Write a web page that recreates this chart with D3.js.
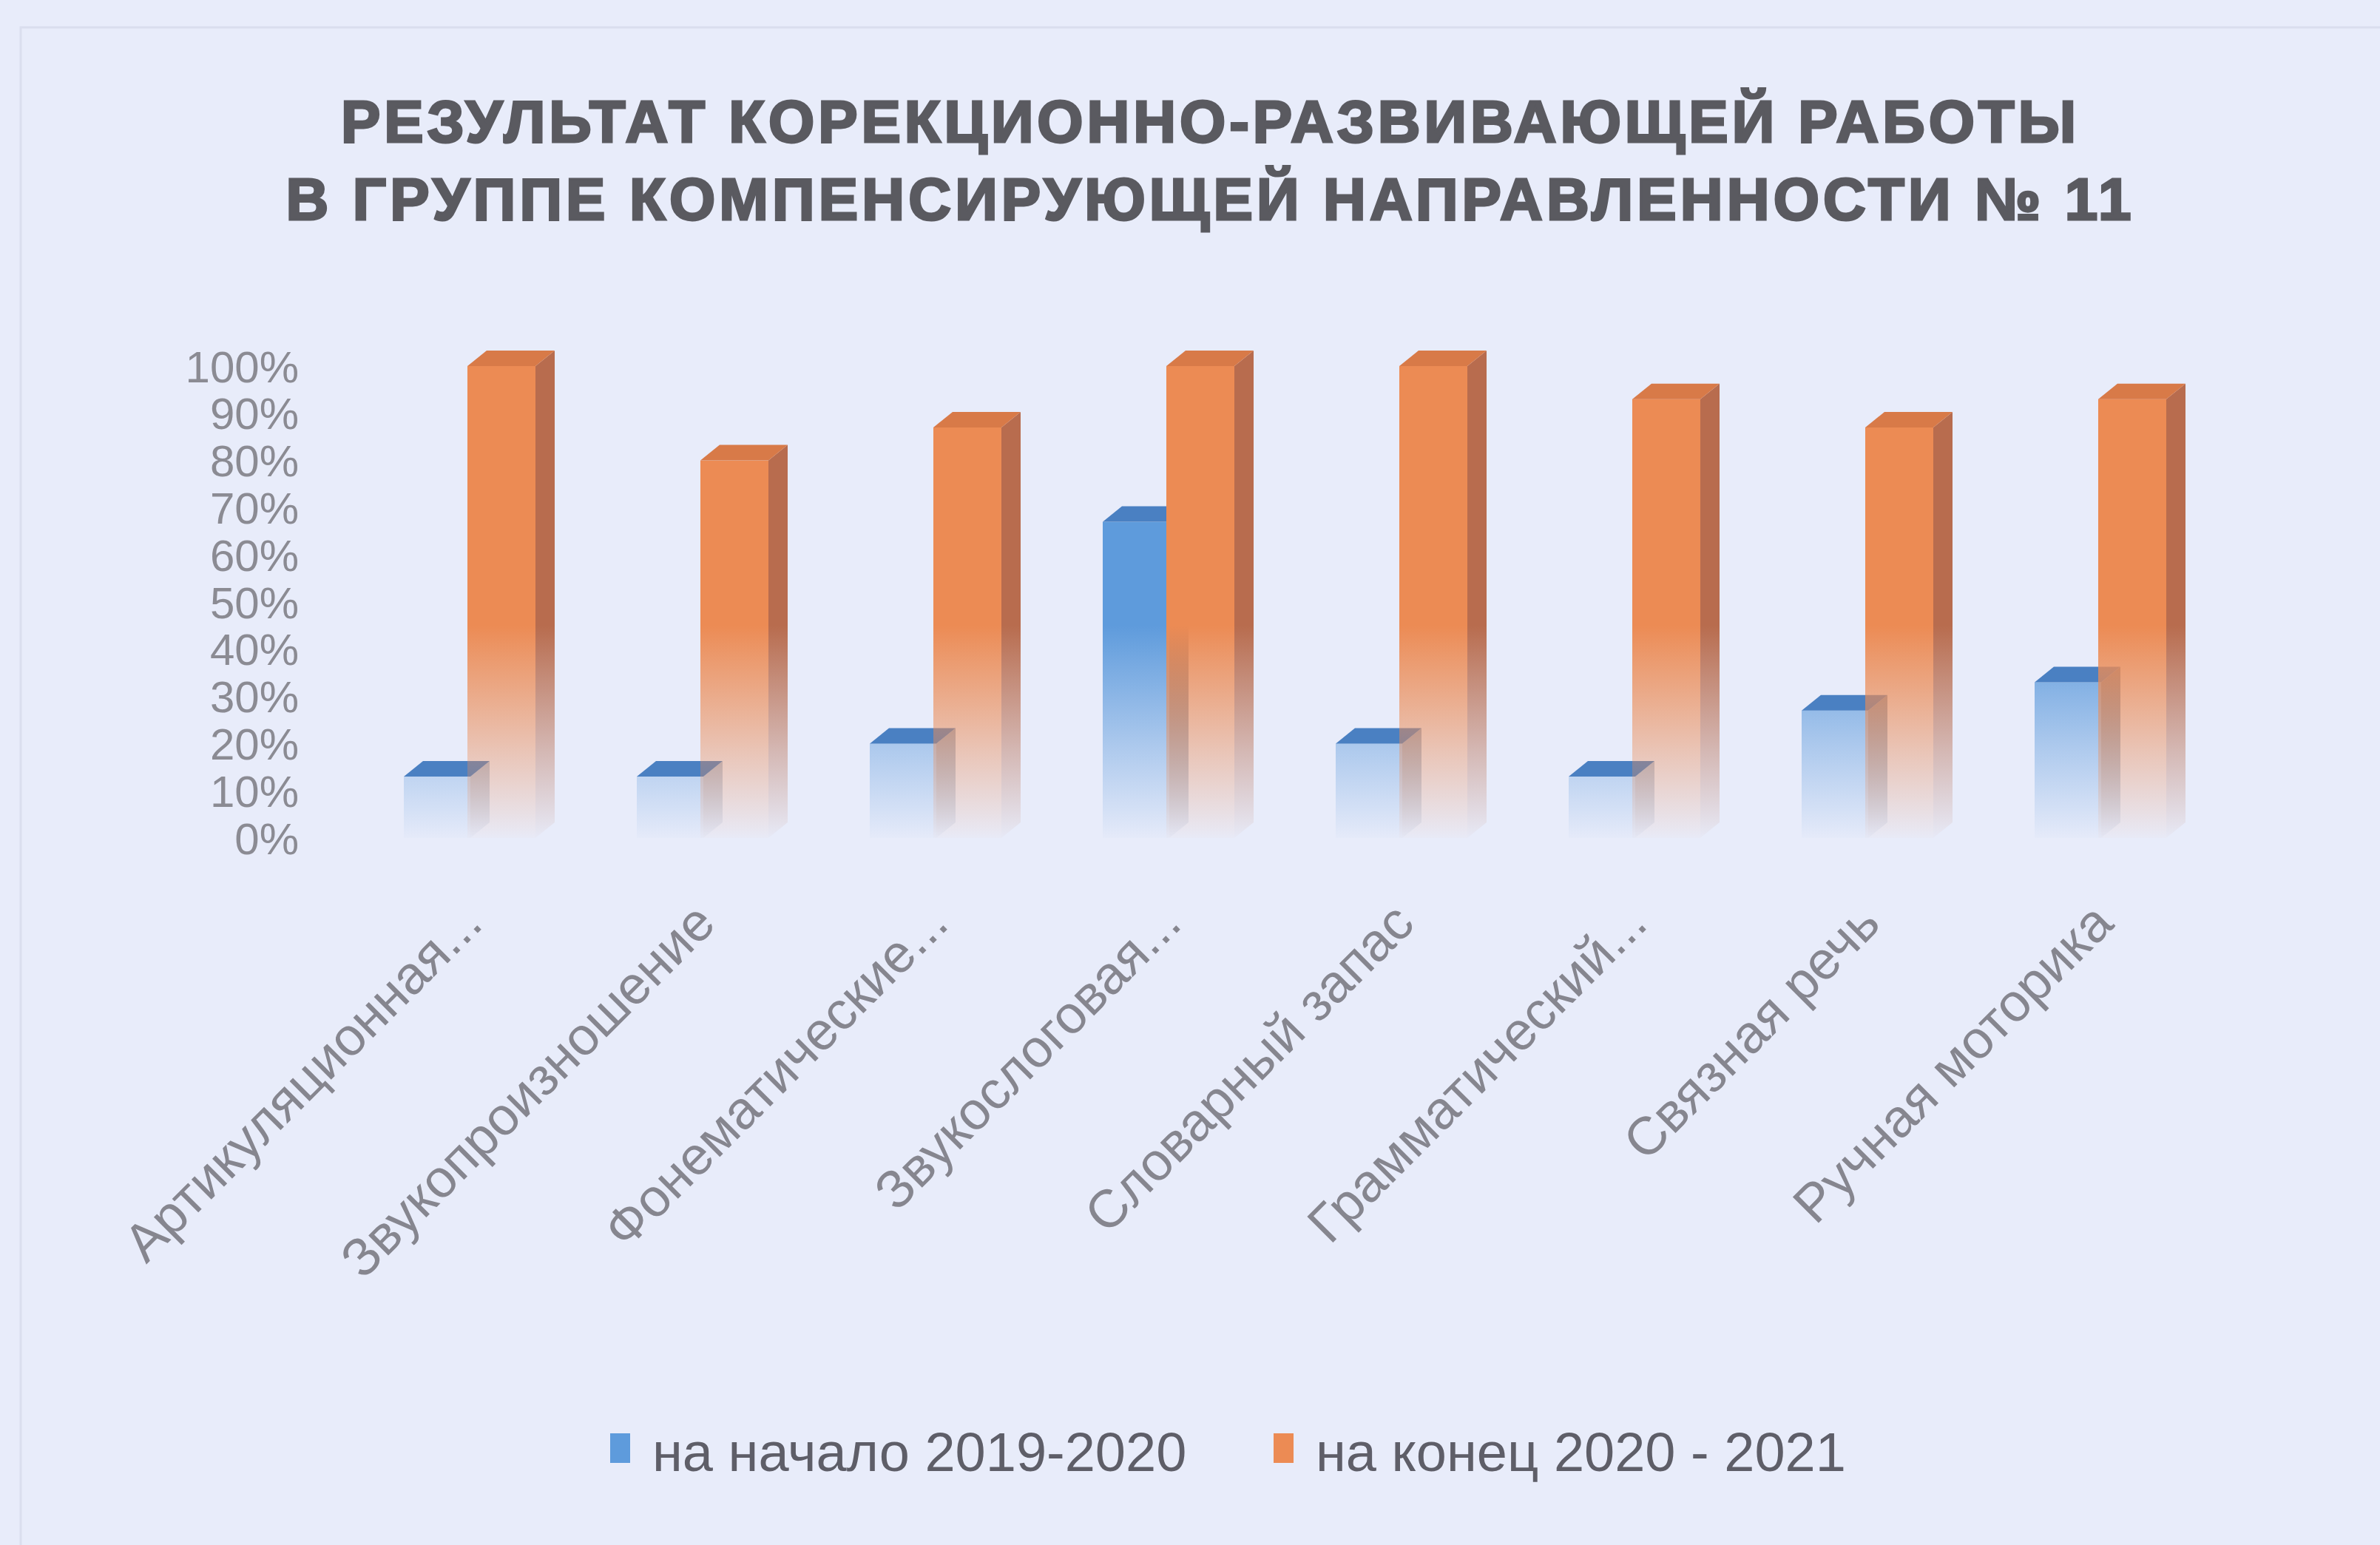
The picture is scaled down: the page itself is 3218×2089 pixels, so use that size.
<!DOCTYPE html>
<html>
<head>
<meta charset="utf-8">
<script src="https://cdn.jsdelivr.net/npm/d3@7"></script>
<style>
  body { margin: 0; background: #e8ecfa; }
  svg { display: block; }
</style>
</head>
<body>
<script>
var w = 3218;
var h = 2089;

var titleLines = ["РЕЗУЛЬТАТ КОРЕКЦИОННО-РАЗВИВАЮЩЕЙ РАБОТЫ",
                  "В ГРУППЕ КОМПЕНСИРУЮЩЕЙ НАПРАВЛЕННОСТИ № 11"];
var categories = ["Артикуляционная...", "Звукопроизношение", "Фонематические...",
                  "Звукослоговая...", "Словарный запас", "Грамматический...",
                  "Связная речь", "Ручная моторика"];
var seriesNames = ["на начало 2019-2020", "на конец 2020 - 2021"];
var startValues = [0.13, 0.13, 0.20, 0.67, 0.20, 0.13, 0.27, 0.33];
var endValues = [1.00, 0.80, 0.87, 1.00, 1.00, 0.93, 0.87, 0.93];
var yTicks = [0, 0.1, 0.2, 0.3, 0.4, 0.5, 0.6, 0.7, 0.8, 0.9, 1];

var svg = d3.select("body")
        .append("svg")
        .attr("width", w)
        .attr("height", h);

svg.append("rect")
    .attr("width", w)
    .attr("height", h)
    .attr("fill", "#e8ecfa");

// faint frame of the chart area
svg.append("rect")
    .attr("x", 28)
    .attr("y", 37)
    .attr("width", w - 20)
    .attr("height", h)
    .attr("fill", "none")
    .attr("stroke", "#dadeee")
    .attr("stroke-width", 3);

var xScale = d3.scaleBand()
    .domain(d3.range(categories.length))
    .range([490, 3010])
    .padding(0);

var yScale = d3.scaleLinear()
    .domain([0, 1])
    .range([1133, 495]);

var depthX = 26, depthY = 21;

// colours: front, side, top
var palette = [
    {front: "#5e9bdc", side: "#4b6d98", top: "#4a80c2", off: 56, width: 90},
    {front: "#ec8b54", side: "#b86c4e", top: "#d87a48", off: 142, width: 92}
];

var defs = svg.append("defs");
palette.forEach(function(p, i) {
    ["front", "side"].forEach(function(face) {
        var g = defs.append("linearGradient")
            .attr("id", "grad" + i + face)
            .attr("gradientUnits", "userSpaceOnUse")
            .attr("x1", 0).attr("x2", 0)
            .attr("y1", yScale(0)).attr("y2", yScale(0.45));
        g.append("stop").attr("offset", 0).attr("stop-color", p[face]).attr("stop-opacity", 0.02);
        g.append("stop").attr("offset", 0.4).attr("stop-color", p[face]).attr("stop-opacity", 0.4);
        g.append("stop").attr("offset", 1).attr("stop-color", p[face]).attr("stop-opacity", 1);
    });
});

// title
svg.selectAll(".title")
    .data(titleLines)
    .enter()
    .append("text")
    .attr("class", "title")
    .attr("x", 1634)
    .attr("y", function(d, i) { return 192 + i * 105; })
    .attr("text-anchor", "middle")
    .attr("textLength", function(d, i) { return i === 0 ? 2346 : 2495; })
    .attr("lengthAdjust", "spacing")
    .style("font-family", "'Liberation Sans', Arial, sans-serif")
    .style("font-weight", "bold")
    .style("font-size", "80px")
    .attr("fill", "#5a5a60")
    .attr("stroke", "#5a5a60")
    .attr("stroke-width", 3)
    .text(function(d) { return d; });

// y axis labels
svg.selectAll(".ytick")
    .data(yTicks)
    .enter()
    .append("text")
    .attr("class", "ytick")
    .attr("x", 404)
    .attr("y", function(d) { return yScale(d); })
    .attr("dy", "0.36em")
    .attr("text-anchor", "end")
    .style("font-family", "'Liberation Sans', Arial, sans-serif")
    .style("font-size", "60px")
    .attr("fill", "#8b8b93")
    .text(d3.format(".0%"));

// 3d bars, blue first so the orange covers its side
[startValues, endValues].forEach(function(values, s) {
    var p = palette[s];
    var g = svg.append("g");
    values.forEach(function(v, i) {
        var x0 = xScale(i) + p.off;
        var x1 = x0 + p.width;
        var yt = yScale(v);
        var yb = yScale(0);
        g.append("polygon")
            .attr("points", [[x1, yt], [x1 + depthX, yt - depthY], [x1 + depthX, yb - depthY], [x1, yb]].join(" "))
            .attr("fill", "url(#grad" + s + "side)");
        g.append("rect")
            .attr("x", x0)
            .attr("y", yt)
            .attr("width", p.width)
            .attr("height", yb - yt)
            .attr("fill", "url(#grad" + s + "front)");
        g.append("polygon")
            .attr("points", [[x0, yt], [x1, yt], [x1 + depthX, yt - depthY], [x0 + depthX, yt - depthY]].join(" "))
            .attr("fill", p.top);
    });
});

// category labels
svg.selectAll(".cat")
    .data(categories)
    .enter()
    .append("text")
    .attr("class", "cat")
    .attr("text-anchor", "end")
    .attr("transform", function(d, i) {
        return "translate(" + (xScale(i) + xScale.bandwidth() / 2 + 8) + ",1252) rotate(-45)";
    })
    .style("font-family", "'Liberation Sans', Arial, sans-serif")
    .style("font-size", "72px")
    .attr("fill", "#86868f")
    .text(function(d) { return d; });

// legend
var legendX = [825, 1722];
seriesNames.forEach(function(name, i) {
    svg.append("rect")
        .attr("x", legendX[i])
        .attr("y", 1938)
        .attr("width", 27)
        .attr("height", 40)
        .attr("fill", palette[i].front);
    svg.append("text")
        .attr("x", legendX[i] + 57)
        .attr("y", 1962)
        .attr("dy", "0.36em")
        .style("font-family", "'Liberation Sans', Arial, sans-serif")
        .style("font-size", "74px")
        .attr("fill", "#5e5e68")
        .text(name);
});
</script>
</body>
</html>
